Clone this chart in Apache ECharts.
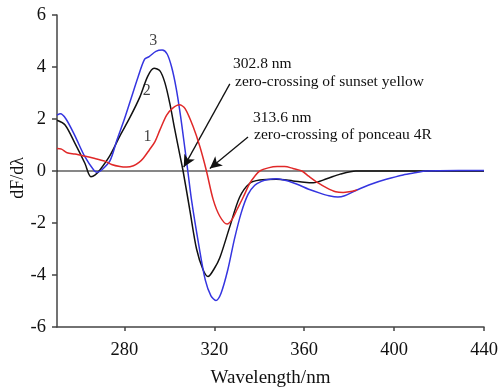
<!DOCTYPE html>
<html>
<head>
<meta charset="utf-8">
<script src="https://cdn.jsdelivr.net/npm/echarts@6/dist/echarts.min.js"></script>
<style>html,body{margin:0;padding:0;background:#fff}#c{width:500px;height:388px}</style>
</head>
<body>
<div id="c"></div>
<script>
const xTicks = [280, 320, 360, 400, 440];
const yTicks = [-6, -4, -2, 0, 2, 4, 6];

const curve1 = [ // red
  [250,0.87],[252,0.84],[254.5,0.7],[258,0.65],[262.4,0.57],[266,0.5],[271.3,0.38],[274.3,0.25],
  [278,0.17],[281,0.15],[284,0.2],[286.5,0.33],[288.4,0.49],[291,0.8],[293.6,1.13],[295.8,1.58],
  [298.8,2.15],[301.5,2.42],[304.4,2.55],[307,2.4],[310.6,1.7],[313.6,0.93],[316.5,0],[319.5,-1.1],
  [322.5,-1.75],[325.7,-2.04],[328,-1.85],[330,-1.5],[333,-0.98],[335.8,-0.47],[338,-0.2],
  [340.2,0],[344,0.12],[348,0.17],[351.3,0.17],[355,0.1],[359,0],[362,-0.2],[366,-0.45],
  [370,-0.65],[374,-0.8],[377.3,-0.83],[380,-0.8],[383.5,-0.73]
];
const curve2 = [ // black
  [250,1.95],[253.6,1.77],[258,1.06],[262.4,0.3],[265.1,-0.22],[267,-0.15],[269.1,0.04],
  [273.6,0.6],[278,1.35],[282.4,2.05],[286.9,2.85],[290.4,3.65],[293.2,3.95],[295.8,3.85],
  [298,3.4],[300.2,2.6],[302.4,1.6],[304.7,0.6],[306.1,0],[309.1,-1.5],[312.1,-3.0],[315,-3.8],
  [317.2,-4.06],[320,-3.75],[322.4,-3.35],[326.9,-2.14],[331.3,-1.0],[335.8,-0.47],[340.2,-0.35],
  [347.6,-0.32],[355,-0.38],[360,-0.43],[364,-0.45],[370,-0.3],[376,-0.12],[383,0],[400,0],[440,0]
];
const curve3 = [ // blue
  [250,2.15],[251.5,2.2],[254,2.0],[258,1.35],[262.4,0.55],[266.5,0.02],[268,-0.05],[270,0.05],
  [273.6,0.4],[276.7,1.2],[280,2.0],[283,2.8],[286,3.6],[289,4.3],[291,4.4],[294,4.6],[296.8,4.65],
  [299,4.5],[301,4.0],[303,3.2],[305,2.1],[307,0.8],[308.2,0],[310,-1.2],[313,-2.8],[316,-4.2],
  [318.5,-4.8],[320.7,-4.98],[323,-4.7],[326,-3.8],[329,-2.6],[332,-1.6],[335,-0.9],[338,-0.55],
  [341,-0.4],[344,-0.33],[347.6,-0.3],[351,-0.35],[355,-0.45],[358,-0.55],[362,-0.7],[367,-0.85],
  [371,-0.95],[375,-1.0],[378,-0.95],[383,-0.75],[390,-0.5],[396.5,-0.32],[404,-0.15],[410,-0.06],
  [414,0],[420,0.01],[440,0.02]
];
const zeroLine = [[250,0],[440,0]];
const arrows = [
  [[326.9,3.35],[306.4,0.15]],
  [[335.0,1.31],[318.0,0.1]]
];
const curveLabels = [
  {text:'1', pos:[290.3,1.3]},
  {text:'2', pos:[289.9,3.1]},
  {text:'3', pos:[292.8,5.0]}
];

const serif = '"Liberation Serif","Times New Roman",serif';
const chart = echarts.init(document.getElementById('c'), null, {renderer:'canvas'});
const lineSeries = (data, color, z) => ({
  type:'line', data, smooth:0.3, symbol:'none', z,
  lineStyle:{color, width:1.5}
});
chart.setOption({
  animation:false,
  grid:{left:57, right:16, top:15, bottom:61, containLabel:false, outerBoundsMode:'none'},
  xAxis:{
    type:'value', min:250, max:440,
    name:'Wavelength/nm', nameLocation:'middle', nameGap:42,
    nameTextStyle:{fontFamily:serif, fontSize:19, color:'#111'},
    axisLine:{onZero:false, lineStyle:{color:'#444', width:1.5}},
    axisTick:{show:true, length:4, customValues:xTicks, lineStyle:{color:'#444', width:1.5}},
    axisLabel:{customValues:xTicks, fontFamily:serif, fontSize:18.5, color:'#111', margin:14},
    splitLine:{show:false}
  },
  yAxis:{
    type:'value', min:-6, max:6, interval:2,
    axisLine:{show:true, onZero:false, lineStyle:{color:'#444', width:1.5}},
    axisTick:{show:true, length:5, lineStyle:{color:'#444', width:1.5}},
    axisLabel:{fontFamily:serif, fontSize:18.5, color:'#111', margin:11},
    splitLine:{show:false}
  },
  series:[
    {type:'line', data:zeroLine, symbol:'none', z:1, lineStyle:{color:'#111', width:1.2}, silent:true},
    lineSeries(curve2, '#111111', 3),
    lineSeries(curve3, '#3535e0', 4),
    lineSeries(curve1, '#e02828', 5),
    {
      type:'scatter', data:curveLabels.map(d=>({value:d.pos, name:d.text})), symbolSize:0, z:6,
      label:{show:true, formatter:p=>p.name, position:'inside', fontFamily:serif, fontSize:16, color:'#111'}
    },
    {
      type:'line', data:[], z:7,
      markLine:{
        silent:true, symbol:['none','arrow'], symbolSize:[9,12],
        lineStyle:{color:'#111', width:1.3, type:'solid'}, label:{show:false},
        data:arrows.map(a=>[{coord:a[0]},{coord:a[1]}])
      }
    }
  ],
  graphic:[
    {type:'text', x:18.5, y:178, rotation:Math.PI/2,
      style:{text:'dF/dλ', font:'18px '+serif, fill:'#111', align:'center', verticalAlign:'middle'}},
    {type:'text', left:233, top:56, style:{text:'302.8 nm', font:'15.5px '+serif, fill:'#111'}},
    {type:'text', left:235, top:74, style:{text:'zero-crossing of sunset yellow', font:'15.5px '+serif, fill:'#111'}},
    {type:'text', left:253, top:110, style:{text:'313.6 nm', font:'15.5px '+serif, fill:'#111'}},
    {type:'text', left:254, top:127, style:{text:'zero-crossing of ponceau 4R', font:'15.5px '+serif, fill:'#111'}}
  ]
});
</script>
</body>
</html>
